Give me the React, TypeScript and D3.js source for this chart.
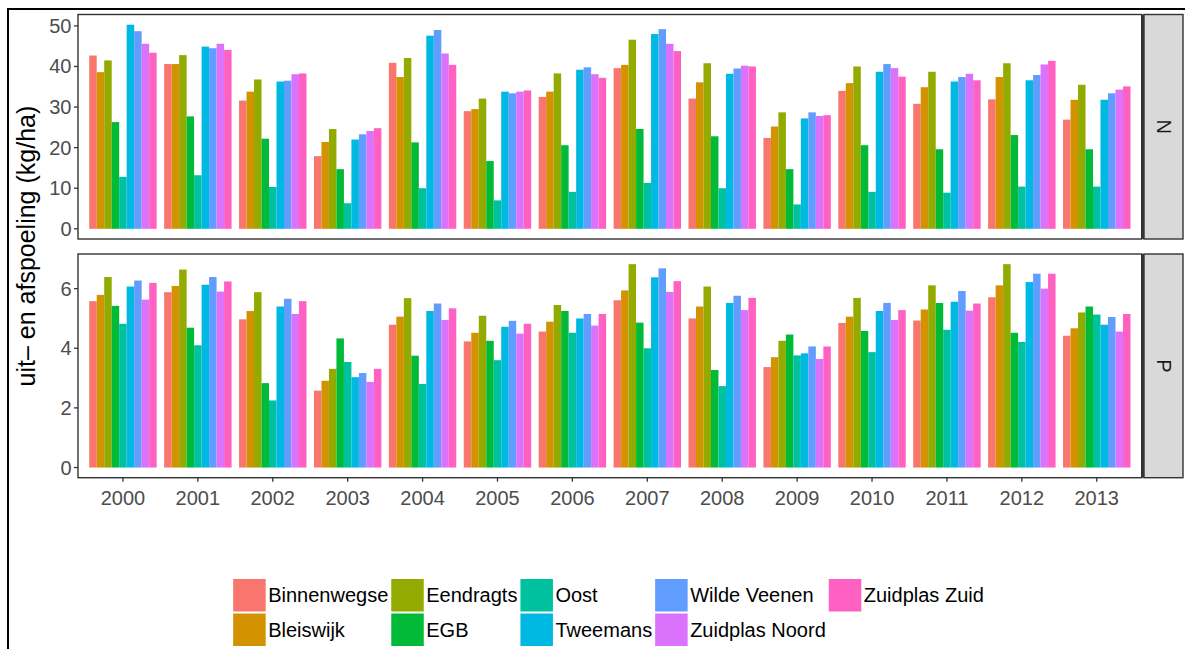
import React from 'react';
import * as d3 from 'd3';

// chart data
const years = ['2000', '2001', '2002', '2003', '2004', '2005', '2006', '2007', '2008', '2009', '2010', '2011', '2012', '2013'];
const sites = ['Binnenwegse', 'Bleiswijk', 'Eendragts', 'EGB', 'Oost', 'Tweemans', 'Wilde Veenen', 'Zuidplas Noord', 'Zuidplas Zuid'];
const siteColors = ['#F8766D', '#D39200', '#93AA00', '#00BA38', '#00C19F', '#00B9E3', '#619CFF', '#DB72FB', '#FF61C3'];

// N (kg/ha), one row per year, columns in site order
const nValues = [
  [42.7, 38.6, 41.5, 26.3, 12.8, 50.3, 48.7, 45.6, 43.4],
  [40.6, 40.6, 42.8, 27.7, 13.2, 44.9, 44.5, 45.6, 44.1],
  [31.6, 33.8, 36.8, 22.2, 10.3, 36.3, 36.5, 38.1, 38.3],
  [17.9, 21.4, 24.6, 14.7, 6.3, 22.0, 23.3, 24.1, 24.8],
  [40.9, 37.4, 42.1, 21.3, 10.0, 47.6, 49.0, 43.2, 40.4],
  [29.0, 29.5, 32.1, 16.7, 7.0, 33.8, 33.4, 33.8, 34.1],
  [32.5, 33.8, 38.3, 20.6, 9.1, 39.2, 39.8, 38.1, 37.2],
  [39.6, 40.4, 46.6, 24.6, 11.3, 48.0, 49.2, 45.6, 43.8],
  [32.1, 36.1, 40.8, 22.8, 10.0, 38.2, 39.5, 40.2, 40.0],
  [22.4, 25.2, 28.7, 14.7, 6.0, 27.2, 28.7, 27.8, 28.0],
  [34.0, 35.9, 40.0, 20.6, 9.1, 38.7, 40.6, 39.6, 37.5],
  [30.8, 34.9, 38.7, 19.6, 8.9, 36.3, 37.4, 38.2, 36.6],
  [31.9, 37.4, 40.8, 23.1, 10.4, 36.6, 37.9, 40.5, 41.4],
  [26.9, 31.8, 35.5, 19.6, 10.4, 31.8, 33.4, 34.3, 35.1],
];

// P (kg/ha)
const pValues = [
  [5.58, 5.79, 6.39, 5.42, 4.82, 6.07, 6.27, 5.63, 6.19],
  [5.88, 6.09, 6.64, 4.69, 4.10, 6.13, 6.39, 5.90, 6.24],
  [4.97, 5.25, 5.88, 2.83, 2.25, 5.40, 5.66, 5.15, 5.58],
  [2.58, 2.91, 3.31, 4.33, 3.54, 3.03, 3.17, 2.87, 3.31],
  [4.79, 5.06, 5.68, 3.75, 2.80, 5.25, 5.50, 4.95, 5.34],
  [4.23, 4.52, 5.09, 4.25, 3.60, 4.72, 4.92, 4.49, 4.82],
  [4.56, 4.89, 5.45, 5.25, 4.52, 5.00, 5.15, 4.76, 5.15],
  [5.61, 5.94, 6.82, 4.86, 4.00, 6.38, 6.68, 5.89, 6.25],
  [5.00, 5.40, 6.07, 3.27, 2.73, 5.52, 5.76, 5.28, 5.69],
  [3.37, 3.70, 4.25, 4.46, 3.76, 3.83, 4.06, 3.64, 4.06],
  [4.85, 5.06, 5.69, 4.58, 3.87, 5.25, 5.52, 4.95, 5.28],
  [4.93, 5.30, 6.11, 5.52, 4.62, 5.56, 5.92, 5.26, 5.50],
  [5.71, 6.11, 6.82, 4.52, 4.21, 6.22, 6.50, 6.00, 6.50],
  [4.42, 4.67, 5.20, 5.40, 5.13, 4.79, 5.05, 4.56, 5.15],
];

const nTicks = [0, 10, 20, 30, 40, 50];
const pTicks = [0, 2, 4, 6];
const yTitle = 'uit\u2013 en afspoeling (kg/ha)';

const W = 1185;
const H = 649;
const FONT = '"Liberation Sans", Arial, Helvetica, sans-serif';
const panelLeft = 78;
const panelRight = 1141.7;
const stripLeft = 1144;
const stripRight = 1183;

const panels = [
  { key: 'N', top: 14.5, bottom: 239, values: nValues, ticks: nTicks },
  { key: 'P', top: 254, bottom: 477.7, values: pValues, ticks: pTicks },
];

function textWidth(s: string, size: number) {
  const ctx = document.createElement('canvas').getContext('2d');
  if (!ctx) return s.length * size * 0.55;
  ctx.font = size + 'px "Liberation Sans", Arial, sans-serif';
  return ctx.measureText(s).width;
}

function Legend() {
  const keySize = 32.5;
  const rows = 2;
  const cols = Math.ceil(sites.length / rows);
  const colW: number[] = [];
  for (let c = 0; c < cols; c++) {
    const labels = sites.slice(c * rows, c * rows + rows);
    const maxW = d3.max(labels, (l) => textWidth(l, 20)) || 0;
    colW.push(keySize + 2.5 + maxW + 3);
  }
  const total = d3.sum(colW);
  const startX = 610 - total / 2;
  const colX = colW.map((_, i) => startX + d3.sum(colW.slice(0, i)));
  const top = 579;
  return (
    <g>
      {sites.map((s, i) => {
        const c = Math.floor(i / rows);
        const r = i % rows;
        const x = colX[c];
        const y = top + r * (keySize + 2);
        return (
          <g key={s}>
            <rect x={x} y={y} width={keySize} height={keySize} fill={siteColors[i]} />
            <text x={x + keySize + 2.5} y={y + keySize / 2} dominantBaseline="central" fontSize={20} fill="#000">
              {s}
            </text>
          </g>
        );
      })}
    </g>
  );
}

export default function App() {
  const x = d3.scaleBand<string>().domain(years).range([panelLeft, panelRight]).paddingInner(0.1).paddingOuter(0.15);
  const xSite = d3.scaleBand<string>().domain(sites).range([0, x.bandwidth()]).padding(0);
  const color = d3.scaleOrdinal<string, string>().domain(sites).range(siteColors);
  const lastPanel = panels[panels.length - 1];

  return (
    <svg
      width={W}
      height={H}
      style={{ position: 'absolute', left: 0, top: 0, background: '#fff' }}
      fontFamily={FONT}
    >
      <rect x={0} y={0} width={W} height={H} fill="#fff" />
      {/* outer frame, cut at right and bottom */}
      <rect x={8} y={9} width={W + 20} height={H + 20} fill="none" stroke="#000" strokeWidth={2} />

      {panels.map((p) => {
        const maxV = d3.max(p.values.flat()) || 1;
        const y = d3.scaleLinear().domain([-0.05 * maxV, 1.05 * maxV]).range([p.bottom, p.top]);
        return (
          <g key={p.key}>
            <rect x={panelLeft} y={p.top} width={panelRight - panelLeft} height={p.bottom - p.top} fill="#fff" />
            {years.map((yr, yi) => (
              <g key={yr} transform={`translate(${x(yr)},0)`}>
                {sites.map((s, si) => {
                  const v = p.values[yi][si];
                  return (
                    <rect
                      key={s}
                      x={xSite(s)}
                      y={y(v)}
                      width={xSite.bandwidth()}
                      height={y(0) - y(v)}
                      fill={color(s)}
                    />
                  );
                })}
              </g>
            ))}
            <rect
              x={panelLeft}
              y={p.top}
              width={panelRight - panelLeft}
              height={p.bottom - p.top}
              fill="none"
              stroke="#333333"
              strokeWidth={1.4}
            />
            {p.ticks.map((t) => (
              <g key={t}>
                <line x1={panelLeft - 4} x2={panelLeft} y1={y(t)} y2={y(t)} stroke="#333333" strokeWidth={1.3} />
                <text x={panelLeft - 6.5} y={y(t)} textAnchor="end" dominantBaseline="central" fontSize={20} fill="#4d4d4d">
                  {t}
                </text>
              </g>
            ))}
            {/* facet strip */}
            <rect
              x={stripLeft}
              y={p.top}
              width={stripRight - stripLeft}
              height={p.bottom - p.top}
              fill="#d9d9d9"
              stroke="#333333"
              strokeWidth={1.4}
            />
            <line x1={panelRight + 1} x2={panelRight + 1} y1={p.top} y2={p.bottom} stroke="#333333" strokeWidth={2.5} />
            <text
              transform={`translate(${(stripLeft + stripRight) / 2},${(p.top + p.bottom) / 2}) rotate(90)`}
              textAnchor="middle"
              dominantBaseline="central"
              fontSize={20}
              fill="#1a1a1a"
            >
              {p.key}
            </text>
          </g>
        );
      })}

      {/* x axis under the bottom panel */}
      {years.map((yr) => {
        const cx = (x(yr) || 0) + x.bandwidth() / 2;
        return (
          <g key={yr}>
            <line x1={cx} x2={cx} y1={lastPanel.bottom} y2={lastPanel.bottom + 4} stroke="#333333" strokeWidth={1.3} />
            <text x={cx} y={505} textAnchor="middle" fontSize={20} fill="#4d4d4d">
              {yr}
            </text>
          </g>
        );
      })}

      <text
        transform={`translate(35,${(panels[0].top + lastPanel.bottom) / 2}) rotate(-90)`}
        textAnchor="middle"
        fontSize={25}
        fill="#000"
      >
        {yTitle}
      </text>

      <Legend />
    </svg>
  );
}
